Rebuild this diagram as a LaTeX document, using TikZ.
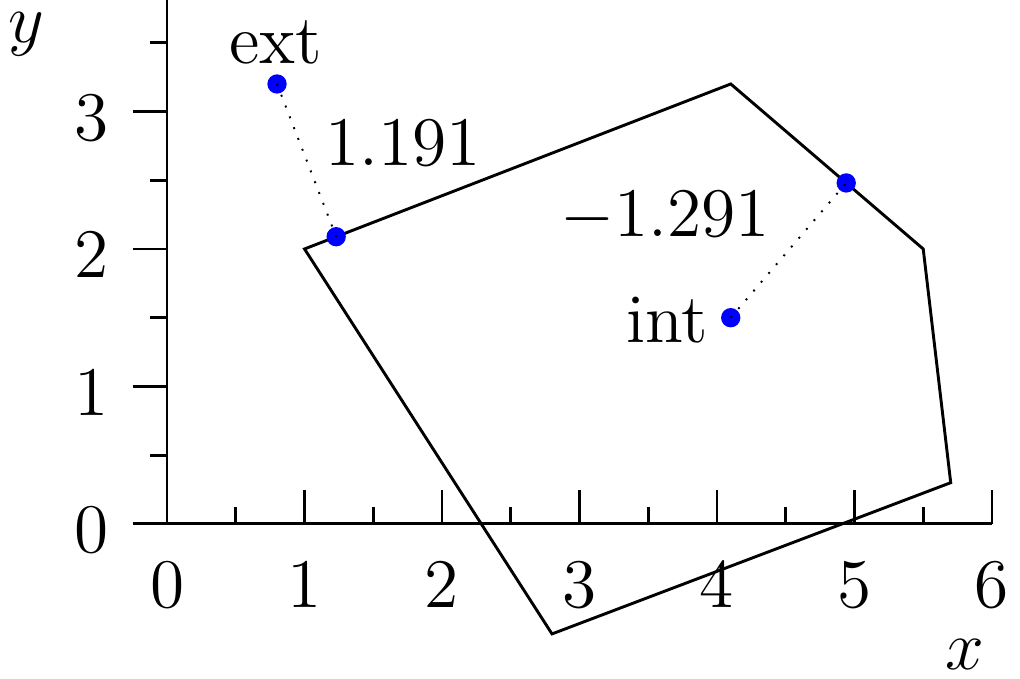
\documentclass[tikz,border=0pt]{standalone}
\usetikzlibrary{calc}
\begin{document}
\begin{tikzpicture}[x=1cm,y=1cm,
  axisline/.style={line width=0.6pt},
  polyline/.style={line width=0.6pt,line join=miter},
  dotline/.style={dotted,line width=0.4pt},
  ptdot/.style={fill=blue},
  lbl/.style={font=\Large,inner sep=0pt}]
\useasboundingbox (-1.215,-1.127) rectangle (6.204,3.811);
% axes
\coordinate (O) at (0,0);
\coordinate (xend) at (6,0);
\coordinate (yend) at (0,3.811);
\coordinate (xstart) at (-0.25,0);
\draw[axisline] (xstart) -- (xend);
\draw[axisline] (O) -- (yend);
\foreach \i in {1,...,6} \draw[axisline] (\i,0) -- (\i,0.25);
\foreach \i in {0.5,1.5,...,5.5} \draw[axisline] (\i,0) -- (\i,0.125);
\foreach \i in {1,2,3} \draw[axisline] (-0.25,\i) -- (0,\i);
\foreach \i in {0.5,1.5,...,3.5} \draw[axisline] (-0.125,\i) -- (0,\i);
\foreach \i in {0,...,6} \node[lbl,anchor=base] (xl\i) at (\i,-0.611) {$\i$};
\foreach \i in {0,...,3} \node[lbl,anchor=base east] (yl\i) at (-0.42,\i-0.21) {$\i$};
\node[lbl,anchor=base] (xlab) at (5.80,-1.06) {$x$};
\node[lbl,anchor=base] (ylab) at (-1.02,3.505) {$y$};
% polygon
\coordinate (p1) at (1,2);
\coordinate (p2) at (4.1,3.2);
\coordinate (p3) at (5.5,2);
\coordinate (p4) at (5.7,0.3);
\coordinate (p5) at (2.8,-0.8);
\draw[polyline] (p1) -- (p2) -- (p3) -- (p4) -- (p5) -- cycle;
% points
\coordinate (ext) at (0.8,3.2);
\coordinate (int) at (4.1,1.5);
\coordinate (pe) at ($(p1)!(ext)!(p2)$);
\coordinate (pi) at ($(p2)!(int)!(p3)$);
\fill[ptdot] (ext) circle (2pt);
\fill[ptdot] (pe) circle (2pt);
\fill[ptdot] (int) circle (2pt);
\fill[ptdot] (pi) circle (2pt);
\draw[dotline] (ext) -- (pe);
\draw[dotline] (int) -- (pi);
\node[lbl,anchor=base] (extl) at (0.79,3.35) {ext};
\node[lbl,anchor=base] (intl) at (3.64,1.32) {int};
\node[lbl,anchor=base] (de) at (1.72,2.61) {$1.191$};
\node[lbl,anchor=base] (di) at (3.62,2.09) {$-1.291$};
\end{tikzpicture}
\end{document}
